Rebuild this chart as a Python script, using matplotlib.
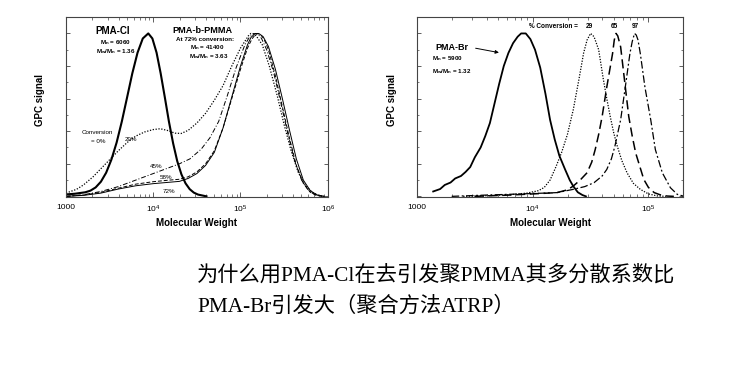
import numpy as np
import matplotlib
matplotlib.use("Agg")
import matplotlib.pyplot as plt
from matplotlib.ticker import FixedLocator, FixedFormatter, LogLocator, MultipleLocator

# ========== DATA ==========
# left panel: PMA-Cl macroinitiator and PMA-b-PMMA at several conversions
cl_0_logm = [3.00, 3.10, 3.22, 3.28, 3.34, 3.40, 3.46, 3.52, 3.58, 3.64, 3.70,
             3.76, 3.82, 3.88, 3.943, 3.99, 4.038, 4.085, 4.133, 4.18, 4.228,
             4.275, 4.323, 4.37, 4.418, 4.465, 4.513, 4.61]
cl_0_sig = [0.012, 0.016, 0.025, 0.035, 0.055, 0.09, 0.145, 0.225, 0.33, 0.46, 0.607,
            0.755, 0.882, 0.969, 1.0, 0.969, 0.882, 0.755, 0.607, 0.458, 0.325,
            0.216, 0.135, 0.08, 0.044, 0.023, 0.011, 0.0]

cl_29_logm = [3.00, 3.12, 3.20, 3.31, 3.40, 3.50, 3.60, 3.70, 3.80, 3.90, 4.00,
              4.08, 4.16, 4.25, 4.32, 4.40, 4.50, 4.60, 4.70, 4.80, 4.90, 5.00,
              5.06, 5.09, 5.12, 5.15, 5.18, 5.25, 5.33, 5.42, 5.50, 5.58, 5.66,
              5.74, 5.82, 5.90, 5.96]
cl_29_sig = [0.02, 0.043, 0.07, 0.12, 0.17, 0.225, 0.28, 0.33, 0.37, 0.395, 0.41,
             0.415, 0.405, 0.388, 0.386, 0.405, 0.45, 0.51, 0.59, 0.68, 0.80, 0.91,
             0.96, 0.985, 1.0, 0.998, 0.985, 0.93, 0.80, 0.62, 0.44, 0.28, 0.15,
             0.07, 0.025, 0.005, 0.0]

cl_45_logm = [3.00, 3.20, 3.40, 3.60, 3.80, 4.00, 4.15, 4.30, 4.42, 4.55, 4.65,
              4.75, 4.85, 4.95, 5.05, 5.10, 5.14, 5.17, 5.20, 5.24, 5.30, 5.38,
              5.46, 5.54, 5.62, 5.70, 5.78, 5.86, 5.94]
cl_45_sig = [0.0, 0.01, 0.03, 0.06, 0.10, 0.14, 0.17, 0.20, 0.23, 0.29, 0.36,
             0.46, 0.62, 0.79, 0.93, 0.975, 0.995, 1.0, 0.995, 0.97, 0.90, 0.76,
             0.58, 0.39, 0.22, 0.10, 0.035, 0.008, 0.0]

cl_58_logm = [3.00, 3.20, 3.40, 3.60, 3.80, 4.00, 4.15, 4.30, 4.40, 4.50, 4.60,
              4.70, 4.80, 4.90, 5.00, 5.08, 5.13, 5.17, 5.20, 5.23, 5.27, 5.32,
              5.40, 5.48, 5.56, 5.64, 5.72, 5.80, 5.88, 5.95]
cl_58_sig = [0.0, 0.008, 0.025, 0.05, 0.075, 0.09, 0.098, 0.105, 0.12, 0.15, 0.20,
             0.28, 0.42, 0.60, 0.78, 0.91, 0.965, 0.993, 1.0, 0.993, 0.965, 0.90,
             0.74, 0.55, 0.36, 0.19, 0.08, 0.025, 0.005, 0.0]

cl_72_logm = [3.00, 3.20, 3.40, 3.60, 3.80, 4.00, 4.15, 4.30, 4.40, 4.50, 4.60,
              4.70, 4.80, 4.90, 5.00, 5.08, 5.12, 5.16, 5.19, 5.22, 5.26, 5.32,
              5.40, 5.48, 5.56, 5.64, 5.72, 5.80, 5.88, 5.96]
cl_72_sig = [0.0, 0.006, 0.02, 0.045, 0.065, 0.078, 0.085, 0.092, 0.11, 0.14, 0.19,
             0.27, 0.42, 0.61, 0.80, 0.93, 0.975, 0.996, 1.0, 0.996, 0.98, 0.92,
             0.78, 0.60, 0.41, 0.23, 0.10, 0.035, 0.008, 0.0]

# right panel: PMA-Br macroinitiator and chain extension at 29 / 65 / 97 %
br_0_logm = [3.14, 3.20, 3.24, 3.29, 3.33, 3.38, 3.42, 3.46, 3.50, 3.55, 3.59,
             3.63, 3.67, 3.71, 3.75, 3.79, 3.83, 3.87, 3.90, 3.94, 3.98, 4.02,
             4.065, 4.11, 4.15, 4.19, 4.23, 4.28, 4.32, 4.35, 4.39, 4.43, 4.46]
br_0_sig = [0.03, 0.045, 0.07, 0.085, 0.11, 0.125, 0.15, 0.18, 0.24, 0.30, 0.37,
            0.45, 0.57, 0.69, 0.80, 0.88, 0.94, 0.98, 1.0, 1.0, 0.965, 0.90,
            0.79, 0.63, 0.47, 0.35, 0.25, 0.165, 0.10, 0.063, 0.025, 0.008, 0.0]

br_29_logm = [3.40, 3.60, 3.80, 3.95, 4.05, 4.10, 4.15, 4.20, 4.25, 4.30, 4.35,
              4.40, 4.44, 4.47, 4.50, 4.53, 4.57, 4.61, 4.64, 4.67, 4.70, 4.73,
              4.77, 4.815, 4.87, 4.93, 5.00, 5.075, 5.15]
br_29_sig = [0.0, 0.004, 0.01, 0.02, 0.035, 0.055, 0.10, 0.18, 0.27, 0.38, 0.53,
             0.72, 0.88, 0.96, 1.0, 0.98, 0.90, 0.72, 0.60, 0.49, 0.39, 0.31,
             0.22, 0.145, 0.08, 0.043, 0.015, 0.003, 0.0]

br_65_logm = [3.50, 3.80, 4.00, 4.21, 4.30, 4.35, 4.41, 4.47, 4.51, 4.54, 4.57,
              4.60, 4.64, 4.69, 4.705, 4.72, 4.735, 4.76, 4.79, 4.83, 4.86, 4.89,
              4.96, 5.00, 5.05, 5.10, 5.16, 5.22]
br_65_sig = [0.0, 0.008, 0.015, 0.023, 0.04, 0.063, 0.10, 0.145, 0.21, 0.287, 0.38,
             0.49, 0.67, 0.876, 0.96, 1.0, 0.985, 0.917, 0.734, 0.49, 0.37, 0.266,
             0.104, 0.055, 0.023, 0.01, 0.002, 0.0]

br_97_logm = [3.30, 3.60, 3.90, 4.10, 4.21, 4.35, 4.45, 4.53, 4.60, 4.64, 4.68,
              4.71, 4.76, 4.80, 4.84, 4.86, 4.88, 4.895, 4.91, 4.93, 4.97, 5.02,
              5.06, 5.12, 5.19, 5.25, 5.30]
br_97_sig = [0.0, 0.008, 0.015, 0.02, 0.023, 0.043, 0.06, 0.084, 0.125, 0.165, 0.23,
             0.307, 0.47, 0.67, 0.876, 0.95, 1.0, 0.99, 0.96, 0.876, 0.67, 0.47,
             0.287, 0.145, 0.053, 0.012, 0.002]

left_ticks = [1e3, 1e4, 1e5, 1e6]
left_ticklabels = ['1000', r'$10^4$', r'$10^5$', r'$10^6$']
right_ticks = [1e3, 1e4, 1e5]
right_ticklabels = ['1000', r'$10^4$', r'$10^5$']

caption = ['为什么用PMA-Cl在去引发聚PMMA其多分散系数比',
           'PMA-Br引发大（聚合方法ATRP）']

# ========== PLOT STYLING ==========
plt.rcParams.update({
    'font.family': ['Liberation Sans', 'DejaVu Sans'],
    'mathtext.fontset': 'custom',
    'mathtext.rm': 'Liberation Sans',
    'mathtext.it': 'Liberation Sans',
    'mathtext.bf': 'Liberation Sans:bold',
    'mathtext.default': 'regular',
    'axes.linewidth': 0.8,
    'axes.edgecolor': '#444444',
    'xtick.direction': 'in',
    'ytick.direction': 'in',
    'xtick.top': True,
    'ytick.right': True,
    'xtick.major.size': 3.5,
    'xtick.minor.size': 2,
    'ytick.major.size': 3,
    'ytick.minor.size': 1.6,
    'xtick.major.width': 0.6,
    'xtick.minor.width': 0.5,
    'ytick.major.width': 0.6,
    'ytick.minor.width': 0.5,
    'xtick.color': '#444444',
    'ytick.color': '#444444',
    'xtick.labelcolor': 'black',
    'xtick.labelsize': 6,
    'xtick.major.pad': 5,
})


def mw(logm):
    return 10 ** np.asarray(logm)


def style_axes(ax, xlim, ticks, ticklabels, ylabel_x):
    ax.set_xscale('log')
    ax.set_xlim(*xlim)
    ax.set_ylim(-0.004, 1.1)
    ax.xaxis.set_major_locator(FixedLocator(ticks))
    ax.xaxis.set_major_formatter(FixedFormatter(ticklabels))
    ax.xaxis.set_minor_locator(LogLocator(base=10, subs=np.arange(2, 10)))
    ax.xaxis.set_minor_formatter(FixedFormatter([]))
    ax.yaxis.set_major_locator(MultipleLocator(0.2))
    ax.yaxis.set_minor_locator(MultipleLocator(0.1))
    ax.set_yticklabels([])
    ax.set_xlabel('Molecular Weight', fontsize=7, fontweight='bold')
    ax.xaxis.set_label_coords(0.5, -0.115)
    ax.set_ylabel('GPC signal', fontsize=7, fontweight='bold')
    ax.yaxis.set_label_coords(ylabel_x, 0.54)


fig = plt.figure(figsize=(7.5, 3.86), dpi=100)
ax1 = fig.add_axes([0.088, 0.4896, 0.349, 0.466])
ax2 = fig.add_axes([0.556, 0.4896, 0.355, 0.466])

# ---- left panel ----
ax1.plot(mw(cl_0_logm), cl_0_sig, color='black', lw=1.5)
ax1.plot(mw(cl_29_logm), cl_29_sig, color='black', lw=0.9, ls=(0, (1, 1.3)))
ax1.plot(mw(cl_45_logm), cl_45_sig, color='black', lw=0.7, ls=(0, (5, 2, 1, 2)))
ax1.plot(mw(cl_58_logm), cl_58_sig, color='black', lw=0.7, ls=(0, (4, 2)))
ax1.plot(mw(cl_72_logm), cl_72_sig, color='black', lw=0.7)
style_axes(ax1, (1e3, 1e6), left_ticks, left_ticklabels, -0.08)

t = ax1.transAxes
ax1.text(0.179, 0.922, 'PMA-Cl', transform=t, ha='center', va='center',
         fontsize=7, fontweight='bold')
ax1.text(0.187, 0.861, r'$\mathbf{M_n}$ = 6060', transform=t, ha='center',
         va='center', fontsize=4.5, fontweight='bold')
ax1.text(0.191, 0.811, r'$\mathbf{M_w/M_n}$ = 1.36', transform=t, ha='center',
         va='center', fontsize=4.5, fontweight='bold')
ax1.text(0.523, 0.928, 'PMA-b-PMMA', transform=t, ha='center', va='center',
         fontsize=6.6, fontweight='bold')
ax1.text(0.53, 0.878, 'At 72% conversion:', transform=t, ha='center',
         va='center', fontsize=4.5, fontweight='bold')
ax1.text(0.538, 0.831, r'$\mathbf{M_n}$ = 41400', transform=t, ha='center',
         va='center', fontsize=4.5, fontweight='bold')
ax1.text(0.546, 0.781, r'$\mathbf{M_w/M_n}$ = 3.63', transform=t, ha='center',
         va='center', fontsize=4.5, fontweight='bold')
ax1.text(0.118, 0.356, 'Conversion', transform=t, ha='center', va='center',
         fontsize=4.5)
ax1.text(0.122, 0.306, '= 0%', transform=t, ha='center', va='center', fontsize=4.5)
ax1.text(0.248, 0.322, '29%', transform=t, ha='center', va='center', fontsize=4.5)
ax1.text(0.343, 0.172, '45%', transform=t, ha='center', va='center', fontsize=4.5)
ax1.text(0.382, 0.106, '58%', transform=t, ha='center', va='center', fontsize=4.5)
ax1.text(0.393, 0.033, '72%', transform=t, ha='center', va='center', fontsize=4.5)

# ---- right panel ----
ax2.plot(mw(br_0_logm), br_0_sig, color='black', lw=1.3)
ax2.plot(mw(br_29_logm), br_29_sig, color='black', lw=0.9, ls=(0, (1, 1.2)))
ax2.plot(mw(br_65_logm), br_65_sig, color='black', lw=1.1, ls=(0, (6, 3)))
ax2.plot(mw(br_97_logm), br_97_sig, color='black', lw=0.9, ls=(0, (6, 2, 1.5, 2)))
style_axes(ax2, (1e3, 2.0e5), right_ticks, right_ticklabels, -0.075)

t = ax2.transAxes
ax2.text(0.605, 0.95, '% Conversion =', transform=t, ha='right', va='center',
         fontsize=4.7, fontweight='bold')
for x, lab in zip([0.647, 0.741, 0.82], ['29', '65', '97']):
    ax2.text(x, 0.95, lab, transform=t, ha='center', va='center',
             fontsize=4.7, fontweight='bold')
ax2.text(0.132, 0.833, 'PMA-Br', transform=t, ha='center', va='center',
         fontsize=6.5, fontweight='bold')
ax2.text(0.056, 0.767, r'$\mathbf{M_n}$ = 5900', transform=t, ha='left',
         va='center', fontsize=4.5, fontweight='bold')
ax2.text(0.056, 0.70, r'$\mathbf{M_w/M_n}$ = 1.32', transform=t, ha='left',
         va='center', fontsize=4.5, fontweight='bold')
ax2.annotate('', xy=(0.318, 0.8), xycoords=t, xytext=(0.21, 0.83),
             textcoords=t,
             arrowprops=dict(arrowstyle='-|>', lw=0.7, color='black',
                             mutation_scale=5))

# ---- caption ----
cjk = ['Liberation Serif', 'Noto Sans CJK SC']
fig.text(0.263, 0.2876, caption[0], ha='left', va='center', fontsize=15.3,
         family=cjk)
fig.text(0.263, 0.207, caption[1], ha='left', va='center', fontsize=15.3,
         family=cjk)

fig.savefig('out.png', dpi=100)
